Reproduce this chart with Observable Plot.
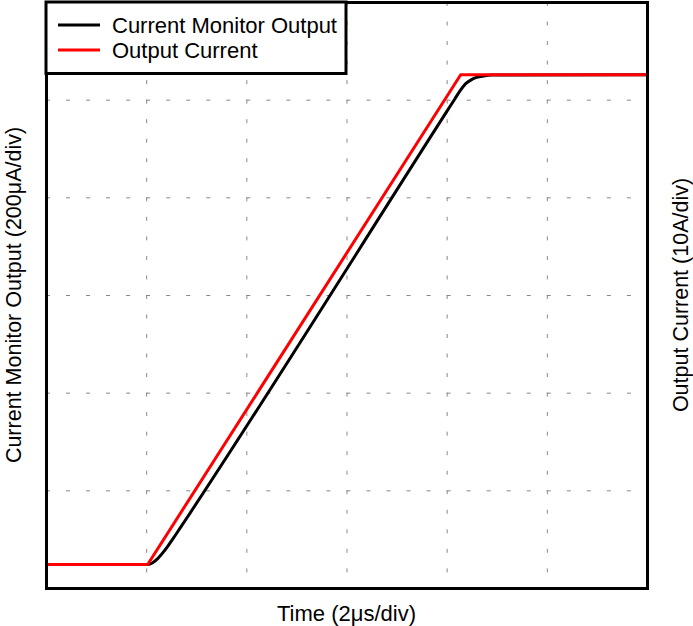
<!DOCTYPE html>
<html><head><meta charset="utf-8">
<script src="https://cdn.jsdelivr.net/npm/d3@7"></script>
<script src="https://cdn.jsdelivr.net/npm/@observablehq/plot@0.6"></script>
<style>body{margin:0;background:#fff} #chart svg{display:block}</style>
</head><body><div id="chart"></div>
<script>
// Output Current (A) vs time (µs)
const outTime = [0, 2.02, 8.27, 12];
const outAmps = [2.46, 2.46, 52.6, 52.6];
// Current Monitor Output (µA) vs time (µs)
const monTime = [0, 2.02, 2.12, 2.22, 2.32, 2.42, 2.52, 2.67, 2.87, 8.0, 8.15, 8.27, 8.37, 8.47, 8.57, 8.7, 8.9, 12];
const monMicroAmps = [49, 49, 52.6, 61.2, 72.9, 86.4, 101, 124, 155, 978, 1002, 1021, 1034, 1041, 1046, 1049, 1051.5, 1052];
// grid divisions
const xGrid = [2, 4, 6, 8, 10];      // µs (2µs/div)
const yGrid = [1, 2, 3, 4, 5];       // divisions
const ampsPerDiv = 10, microAmpsPerDiv = 200;

const outData = outTime.map((t, i) => ({t, a: outAmps[i]}));
const monData = monTime.map((t, i) => ({t, ua: monMicroAmps[i]}));

const font = "'Liberation Sans', Arial, sans-serif";
const W = 693, H = 626;
const plot = Plot.plot({
  width: W, height: H,
  marginLeft: 46, marginRight: 46, marginTop: 2, marginBottom: 38,
  style: {fontFamily: font, background: "white"},
  x: {domain: [0, 12], axis: null},
  y: {domain: [0, 6], axis: null},
  marks: [
    Plot.ruleX(xGrid, {x: d => d, stroke: "#888", strokeWidth: 1, strokeDasharray: "4,15.53"}),
    Plot.ruleY(yGrid, {y: d => d, stroke: "#888", strokeWidth: 1, strokeDasharray: "4,16.03"}),
    Plot.line(monData, {x: "t", y: d => d.ua / microAmpsPerDiv, stroke: "black", strokeWidth: 3, curve: "monotone-x"}),
    Plot.line(outData, {x: "t", y: d => d.a / ampsPerDiv, stroke: "#ff0000", strokeWidth: 3}),
    Plot.frame({stroke: "black", strokeWidth: 3})
  ]
});
document.getElementById("chart").appendChild(plot);

const svg = d3.select(plot);
const fs = "21.5px", fsL = "22px";
// legend
const lg = svg.append("g").attr("text-anchor", "start");
lg.append("rect").attr("x", 46).attr("y", 2).attr("width", 300).attr("height", 71.5)
  .attr("fill", "white").attr("stroke", "black").attr("stroke-width", 3);
const legendItems = [["Current Monitor Output", "black"], ["Output Current", "#ff0000"]];
legendItems.forEach(([label, color], i) => {
  lg.append("line").attr("x1", 58).attr("x2", 100).attr("y1", 25 + 25 * i).attr("y2", 25 + 25 * i)
    .attr("stroke", color).attr("stroke-width", 3);
  lg.append("text").attr("x", 112).attr("y", 33 + 25 * i).attr("font-size", fsL)
    .attr("text-anchor", "start")
    .attr("font-family", font).attr("fill", "black").text(label);
});
// axis labels
svg.append("text").attr("x", 346.5).attr("y", 621).attr("text-anchor", "middle")
  .attr("font-size", fsL).attr("font-family", font).attr("fill", "black").text("Time (2μs/div)");
svg.append("text").attr("transform", "translate(21,295) rotate(-90)").attr("text-anchor", "middle")
  .attr("font-size", fs).attr("font-family", font).attr("fill", "black").text("Current Monitor Output (200μA/div)");
svg.append("text").attr("transform", "translate(688,295) rotate(-90)").attr("text-anchor", "middle")
  .attr("font-size", fs).attr("font-family", font).attr("fill", "black").text("Output Current (10A/div)");
</script>
</body></html>
